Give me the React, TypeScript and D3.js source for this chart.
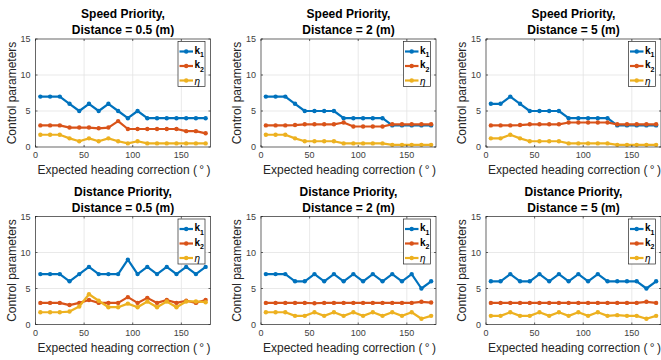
import React from "react";
import * as d3 from "d3";

const W = 661;
const H = 360;

const headings = [5, 15, 25, 35, 45, 55, 65, 75, 85, 95, 105, 115, 125, 135, 145, 155, 165, 175];
const xTicks = [0, 50, 100, 150];
const yTicks = [0, 5, 10, 15];

const titles = [
  ["Speed Priority,", "Distance = 0.5 (m)"],
  ["Speed Priority,", "Distance = 2 (m)"],
  ["Speed Priority,", "Distance = 5 (m)"],
  ["Distance Priority,", "Distance = 0.5 (m)"],
  ["Distance Priority,", "Distance = 2 (m)"],
  ["Distance Priority,", "Distance = 5 (m)"],
];

// k1, k2, eta per panel
const speed05k1 = [7, 7, 7, 6, 5, 6, 5, 6, 5, 4, 5, 4, 4, 4, 4, 4, 4, 4];
const speed05k2 = [3, 3, 3, 2.7, 2.7, 2.7, 2.6, 2.7, 3.6, 2.5, 2.5, 2.5, 2.5, 2.5, 2.5, 2.2, 2.2, 1.9];
const speed05eta = [1.7, 1.7, 1.7, 1.2, 0.8, 1.2, 0.8, 1.2, 0.8, 0.5, 0.8, 0.5, 0.5, 0.5, 0.5, 0.5, 0.5, 0.5];

const speed2k1 = [7, 7, 7, 6, 5, 5, 5, 5, 4, 4, 4, 4, 4, 3, 3, 3, 3, 3];
const speed2k2 = [3, 3, 3, 3.05, 3.15, 3.15, 3.15, 3.15, 3.4, 2.85, 2.85, 2.85, 2.85, 3.15, 3.15, 3.15, 3.15, 3.15];
const speed2eta = [1.7, 1.7, 1.7, 1.2, 0.8, 0.8, 0.8, 0.8, 0.5, 0.5, 0.5, 0.5, 0.5, 0.3, 0.3, 0.3, 0.3, 0.3];

const speed5k1 = [6, 6, 7, 6, 5, 5, 5, 5, 4, 4, 4, 4, 4, 3, 3, 3, 3, 3];
const speed5k2 = [3, 3, 3, 3.05, 3.15, 3.15, 3.15, 3.15, 3.4, 3.4, 3.4, 3.4, 3.4, 3.15, 3.15, 3.15, 3.15, 3.15];
const speed5eta = [1.2, 1.2, 1.7, 1.2, 0.8, 0.8, 0.8, 0.8, 0.5, 0.5, 0.5, 0.5, 0.5, 0.3, 0.3, 0.3, 0.3, 0.3];

const dist05k1 = [7, 7, 7, 6, 7, 8, 7, 7, 7, 9, 7, 8, 7, 8, 7, 8, 7, 8];
const dist05k2 = [3, 3, 3, 2.7, 3, 3.4, 3, 3, 3, 3.8, 3, 3.7, 3, 3.4, 3, 3.3, 3, 3.4];
const dist05eta = [1.7, 1.7, 1.7, 1.8, 2.5, 4.2, 3.3, 2.4, 2.4, 2.9, 2.4, 3.2, 2.4, 3.2, 2.4, 3.2, 3.2, 3.1];

const dist2k1 = [7, 7, 7, 6, 6, 7, 6, 7, 6, 7, 6, 7, 6, 7, 6, 7, 5, 6];
const dist2k2 = [3, 3, 3, 3, 3, 2.95, 3, 3, 3, 3, 3, 3, 3, 3, 3, 3, 3.15, 3.05];
const dist2eta = [1.7, 1.7, 1.7, 1.2, 1.2, 1.7, 1.2, 1.7, 1.2, 1.7, 1.2, 1.7, 1.2, 1.7, 1.2, 1.7, 0.8, 1.2];

const dist5k1 = [6, 6, 7, 6, 6, 7, 6, 7, 6, 7, 6, 7, 6, 6, 6, 6, 5, 6];
const dist5k2 = [3, 3, 3, 3, 3, 3, 3, 3, 3, 3, 3, 3, 3, 3, 3, 3, 3.15, 3];
const dist5eta = [1.2, 1.2, 1.7, 1.2, 1.2, 1.7, 1.2, 1.7, 1.2, 1.7, 1.2, 1.7, 1.2, 1.3, 1.2, 1.2, 0.8, 1.2];

const panelSeries = [
  [speed05k1, speed05k2, speed05eta],
  [speed2k1, speed2k2, speed2eta],
  [speed5k1, speed5k2, speed5eta],
  [dist05k1, dist05k2, dist05eta],
  [dist2k1, dist2k2, dist2eta],
  [dist5k1, dist5k2, dist5eta],
];

const colors = ["#0072BD", "#D95319", "#EDB120"];
const lefts = [35.5, 261, 486];
const tops = [39, 216.5];
const pw = 175;
const ph = 108;

const font = "Liberation Sans, Arial, Helvetica, sans-serif";
const axisColor = "#262626";

const Panel = ({ idx }: { idx: number }) => {
  const left = lefts[idx % 3];
  const top = tops[Math.floor(idx / 3)];
  const x = d3.scaleLinear([0, 180], [left, left + pw]);
  const y = d3.scaleLinear([0, 15], [top + ph, top]);
  const line = d3
    .line<number>()
    .x((_, i) => x(headings[i]))
    .y((d) => y(d));
  const clipId = `clip${idx}`;
  const lgR = left + pw - 5.5;
  const lgL = lgR - 27;
  const lgT = top + 2.5;
  const labels = ["1", "2", null];
  return (
    <g>
      <defs>
        <clipPath id={clipId}>
          <rect x={left - 3} y={top - 3} width={pw + 6} height={ph + 6} />
        </clipPath>
      </defs>
      <rect x={left} y={top} width={pw} height={ph} fill="#fff" />
      {xTicks.slice(1).map((t) => (
        <line key={"gx" + t} x1={x(t)} x2={x(t)} y1={top} y2={top + ph} stroke="#e3e3e3" strokeWidth={0.8} />
      ))}
      {yTicks.slice(1, 3).map((t) => (
        <line key={"gy" + t} x1={left} x2={left + pw} y1={y(t)} y2={y(t)} stroke="#e3e3e3" strokeWidth={0.8} />
      ))}
      <g clipPath={`url(#${clipId})`}>
        {panelSeries[idx].map((s, si) => (
          <g key={si}>
            <path d={line(s) || ""} fill="none" stroke={colors[si]} strokeWidth={2.2} strokeLinejoin="round" />
            {s.map((v, i) => (
              <circle key={i} cx={x(headings[i])} cy={y(v)} r={2.2} fill={colors[si]} />
            ))}
          </g>
        ))}
      </g>
      <rect x={left} y={top} width={pw} height={ph} fill="none" stroke={axisColor} strokeWidth={0.7} />
      {xTicks.map((t) => (
        <g key={"tx" + t}>
          <line x1={x(t)} x2={x(t)} y1={top + ph} y2={top + ph - 2} stroke={axisColor} strokeWidth={0.7} />
          <line x1={x(t)} x2={x(t)} y1={top} y2={top + 2} stroke={axisColor} strokeWidth={0.7} />
          <text x={x(t)} y={top + ph + 11} textAnchor="middle" fontSize={9} fill="#404040" fontFamily={font}>
            {t}
          </text>
        </g>
      ))}
      {yTicks.map((t) => (
        <g key={"ty" + t}>
          <line x1={left} x2={left + 2} y1={y(t)} y2={y(t)} stroke={axisColor} strokeWidth={0.7} />
          <line x1={left + pw} x2={left + pw - 2} y1={y(t)} y2={y(t)} stroke={axisColor} strokeWidth={0.7} />
          <text x={left - 5} y={y(t) + 3.2} textAnchor="end" fontSize={9} fill="#404040" fontFamily={font}>
            {t}
          </text>
        </g>
      ))}
      <text x={left + pw / 2 + 1} y={top + ph + 27} textAnchor="middle" fontSize={12} fill="#262626" fontFamily={font}>
        {"Expected heading correction (\u2009°\u2009)"}
      </text>
      <text
        transform={`translate(${left - 20},${top + ph / 2}) rotate(-90)`}
        textAnchor="middle"
        fontSize={12}
        fill="#262626"
        fontFamily={font}
      >
        Control parameters
      </text>
      <text x={left + pw / 2} y={top - 21} textAnchor="middle" fontSize={12} fontWeight="bold" fill="#000" fontFamily={font}>
        {titles[idx][0]}
      </text>
      <text x={left + pw / 2} y={top - 5} textAnchor="middle" fontSize={12} fontWeight="bold" fill="#000" fontFamily={font}>
        {titles[idx][1]}
      </text>
      <g>
        <rect x={lgL} y={lgT} width={27} height={45} fill="#fff" stroke={axisColor} strokeWidth={0.7} />
        {colors.map((c, i) => {
          const ly = lgT + 10 + i * 14.5;
          return (
            <g key={c}>
              <line x1={lgL + 1.5} x2={lgL + 15} y1={ly} y2={ly} stroke={c} strokeWidth={2.2} />
              <circle cx={lgL + 8.2} cy={ly} r={2.2} fill={c} />
              {labels[i] ? (
                <text x={lgL + 16.5} y={ly + 2} fontSize={10} fontWeight="bold" fill="#000" fontFamily={font}>
                  k
                  <tspan fontSize={7} dy={3.5}>
                    {labels[i]}
                  </tspan>
                </text>
              ) : (
                <text x={lgL + 16.5} y={ly + 4} fontSize={10} fontStyle="italic" fill="#000" fontFamily={font}>
                  η
                </text>
              )}
            </g>
          );
        })}
      </g>
    </g>
  );
};

export default function App() {
  return (
    <svg
      width={W}
      height={H}
      viewBox={`0 0 ${W} ${H}`}
      style={{ position: "absolute", left: 0, top: 0, background: "#fff" }}
    >
      <rect width={W} height={H} fill="#fff" />
      {titles.map((_, i) => (
        <Panel key={i} idx={i} />
      ))}
    </svg>
  );
}
